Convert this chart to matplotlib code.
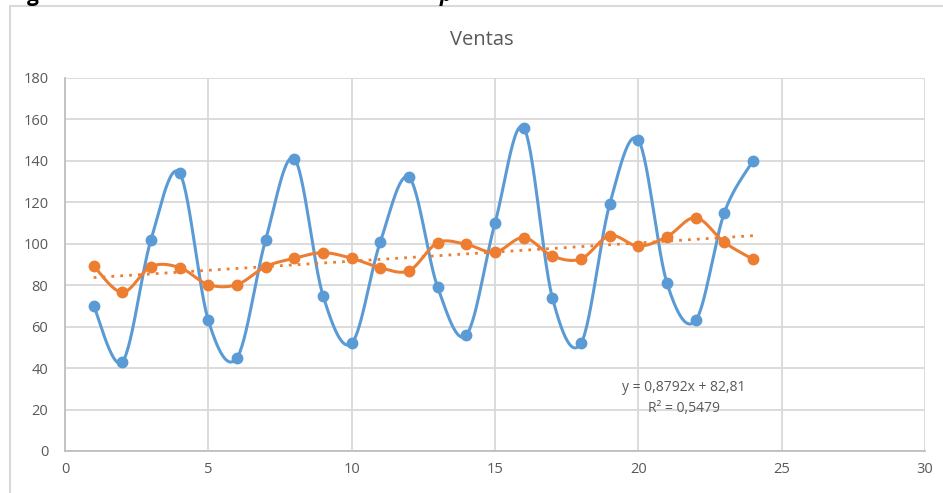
import numpy as np
import matplotlib
matplotlib.use("Agg")
import matplotlib.pyplot as plt
from matplotlib.patches import Rectangle

plt.rcParams['font.family'] = ['Open Sans', 'DejaVu Sans']

# Data
periodo = list(range(1, 25))
serie_azul = [70, 43, 102, 134, 63, 45, 102, 141, 75, 52, 101, 132,
              79, 56, 110, 156, 74, 52, 119, 150, 81, 63, 115, 140]
serie_naranja = [89.3, 76.6, 89, 88.5, 80.3, 80.3, 89, 93, 95.7, 93, 88.5, 87,
                 100.5, 99.7, 95.9, 103, 94.1, 92.7, 103.9, 98.9, 103.4, 112.6, 100.7, 92.5]
tendencia_pendiente = 0.8792
tendencia_intercepto = 82.81
tendencia_r2 = 0.5479

AZUL = '#5B9BD5'
NARANJA = '#ED7D31'
GRIS_TXT = '#595959'
GRID = '#D9D9D9'


def coma(v, dec):
    return f'{v:.{dec}f}'.replace('.', ',')


def suavizar(x, y, n=30):
    """Smooth curve through points with Bezier segments (Catmull-Rom style)."""
    x = np.asarray(x, float)
    y = np.asarray(y, float)
    px = np.concatenate([[x[0]], x, [x[-1]]])
    py = np.concatenate([[y[0]], y, [y[-1]]])
    xs, ys = [], []
    t = np.linspace(0, 1, n)
    for i in range(1, len(px) - 2):
        p0 = np.array([px[i], py[i]])
        p3 = np.array([px[i + 1], py[i + 1]])
        p1 = p0 + (np.array([px[i + 1], py[i + 1]]) - np.array([px[i - 1], py[i - 1]])) / 6
        p2 = p3 - (np.array([px[i + 2], py[i + 2]]) - np.array([px[i], py[i]])) / 6
        b = ((1 - t) ** 3)[:, None] * p0 + (3 * (1 - t) ** 2 * t)[:, None] * p1 \
            + (3 * (1 - t) * t ** 2)[:, None] * p2 + (t ** 3)[:, None] * p3
        xs.extend(b[:, 0])
        ys.extend(b[:, 1])
    return np.array(xs), np.array(ys)


fig = plt.figure(figsize=(9.43, 4.93), dpi=100)

# Descenders of the page heading above the chart
fig.text(27 / 943, 1 - 0.5 / 493, 'g', ha='left', va='baseline', fontsize=15,
         fontweight='bold', color='black')
fig.text(440 / 943, 1 - 0.5 / 493, 'p', ha='left', va='baseline', fontsize=15,
         fontweight='bold', fontstyle='italic', color='black')

# Outer chart border
fig.patches.append(Rectangle((10 / 943, -0.1), 1.2, 1 - 6 / 493 + 0.1,
                             transform=fig.transFigure, fill=False,
                             edgecolor=GRID, linewidth=1.5))

ax = fig.add_axes([65 / 943, 1 - 451 / 493, 860 / 943, (451 - 78) / 493])
ax.set_xlim(0, 30)
ax.set_ylim(0, 180)
ax.set_xticks(range(0, 31, 5))
ax.set_yticks(range(0, 181, 20))
ax.grid(True, color=GRID, linewidth=1.3)
ax.set_axisbelow(True)
for s in ['top', 'right']:
    ax.spines[s].set_visible(False)
for s in ['left', 'bottom']:
    ax.spines[s].set_color('#BFBFBF')
    ax.spines[s].set_linewidth(1.3)
ax.tick_params(length=0, labelsize=10.5, labelcolor=GRIS_TXT, pad=8)
ax.tick_params(axis='y', pad=12)

# Series
xa, ya = suavizar(periodo, serie_azul)
ax.plot(xa, ya, color=AZUL, lw=2.2, zorder=3)
ax.plot(periodo, serie_azul, 'o', color=AZUL, ms=7.5, zorder=4)

xn, yn = suavizar(periodo, serie_naranja)
ax.plot(xn, yn, color=NARANJA, lw=2.2, zorder=3)
ax.plot(periodo, serie_naranja, 'o', color=NARANJA, ms=7.5, zorder=4)

# Linear trend of the orange series
xt = np.array([periodo[0], periodo[-1]], float)
ax.plot(xt, tendencia_intercepto + tendencia_pendiente * xt, linestyle=(0, (1, 2.2)),
        color=NARANJA, lw=2, zorder=3)

ax.text(21.6, 30.5, f'y = {coma(tendencia_pendiente, 4)}x + {coma(tendencia_intercepto, 2)}',
        ha='center', va='center', fontsize=10, color=GRIS_TXT)
ax.text(21.6, 20.5, f'R² = {coma(tendencia_r2, 4)}',
        ha='center', va='center', fontsize=10, color=GRIS_TXT)

fig.text(482 / 943, 1 - 40 / 493, 'Ventas', ha='center', va='center',
         fontsize=14.5, color=GRIS_TXT)

fig.savefig('out.png', dpi=100)
